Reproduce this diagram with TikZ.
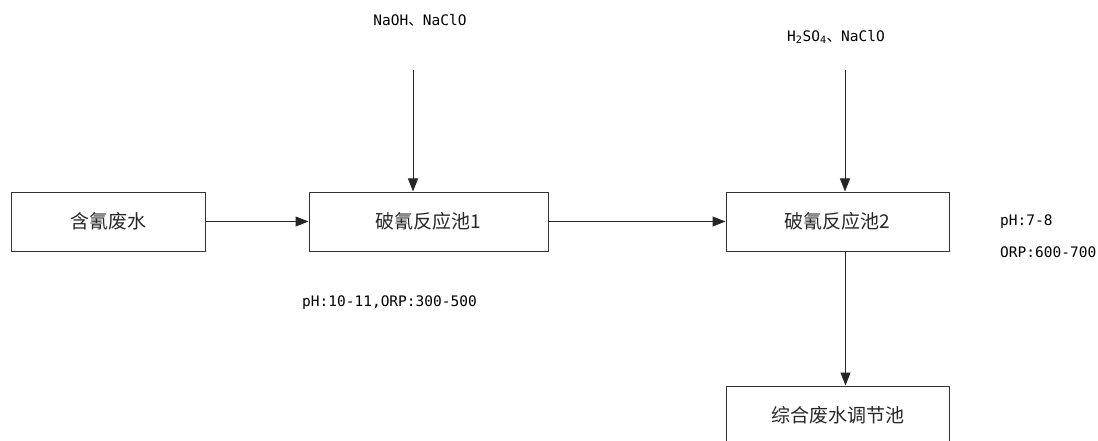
\documentclass[tikz,border=0pt]{standalone}
\usepackage{fontspec}
\newfontfamily\cjk{Noto Sans CJK SC}
\newfontfamily\monolbl{DejaVu Sans Mono}
\usetikzlibrary{arrows.meta}
\tikzset{
  box/.style={draw=black!80, line width=1pt, minimum height=59pt, inner sep=0pt, font=\cjk\fontsize{19}{22}\selectfont, text=black!85},
  flow/.style={draw=black!85, line width=1pt, -{Triangle[length=13pt,width=10pt]}},
  lbl/.style={inner sep=0pt, font=\monolbl\fontsize{14.5}{17}\selectfont, text=black}
}
\begin{document}
\begin{tikzpicture}[x=1pt,y=-1pt]
\useasboundingbox (0,0) rectangle (1098,441);
\clip (0,0) rectangle (1098,441);
\node[box, minimum width=194pt] (a) at (108,221.5) {含氰废水};
\node[box, minimum width=239pt] (b) at (428.5,221.5) {破氰反应池1};
\node[box, minimum width=223pt] (c) at (837.5,221.5) {破氰反应池2};
\node[box, minimum width=223pt] (d) at (837.5,415.5) {综合废水调节池};
\coordinate (t1) at (413,70);
\coordinate (t2) at (845,70);
\draw[flow] (t1) -- (t1 |- b.north);
\draw[flow] (t2) -- (t2 |- c.north);
\draw[flow] (a.east) -- (b.west);
\draw[flow] (b.east) -- (c.west);
\draw[flow] ([xshift=8pt]c.south) -- ([xshift=8pt]d.north);
\node[lbl] (l1) at (420,20) {NaOH{\cjk 、}NaClO};
\node[lbl] (l2) at (836,37) {H\textsubscript{2}SO\textsubscript{4}{\cjk 、}NaClO};
\node[lbl, anchor=west] (l3) at (1000,222) {pH:7-8};
\node[lbl, anchor=west] (l4) at (1000,252) {ORP:600-700};
\node[lbl, anchor=west] (l5) at (302,303) {pH:10-11,ORP:300-500};
\end{tikzpicture}
\end{document}
